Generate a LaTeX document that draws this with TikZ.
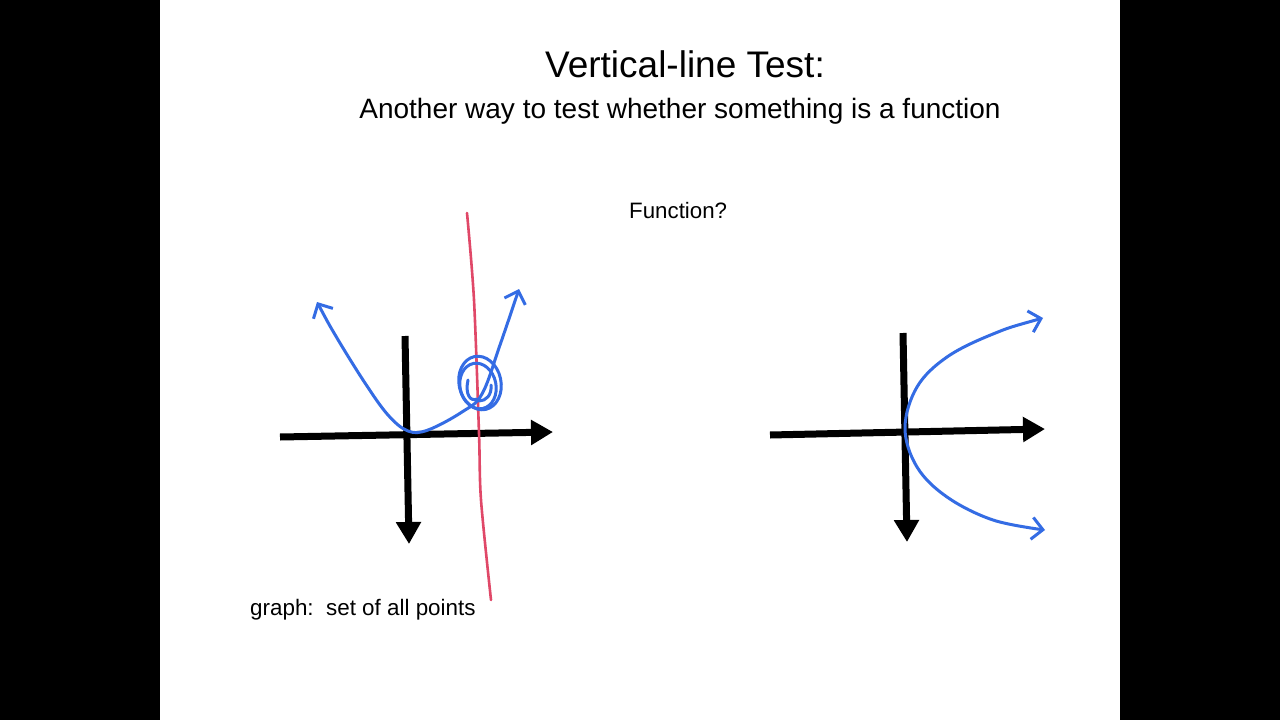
\documentclass[tikz,border=0pt]{standalone}
\usepackage{fontspec}
\setmainfont{Liberation Sans}
\usetikzlibrary{arrows.meta}
\definecolor{penblue}{RGB}{52,108,228}
\definecolor{penred}{RGB}{224,72,104}
\tikzset{
  axis/.style={line width=7pt,-{Triangle[length=22pt,width=24pt]}},
  curve/.style={penblue,line width=3pt,line cap=round,line join=round},
  barb/.style={{Straight Barb[length=11pt,width=22pt]}-{Straight Barb[length=11pt,width=22pt]}},
  txt/.style={inner sep=0pt,text=black},
}
\begin{document}
\begin{tikzpicture}[x=1pt,y=-1pt]
\useasboundingbox (0,0) rectangle (1280,720);
\fill[black] (0,0) rectangle (1280,720);
\fill[white] (160,0) rectangle (1120,720);

% texts
\node[txt,anchor=base,font=\fontsize{37pt}{40pt}\selectfont] (title) at (685,77) {Vertical-line Test:};
\node[txt,anchor=base,font=\fontsize{28pt}{32pt}\selectfont] (subtitle) at (680,118) {Another way to test whether something is a function};
\node[txt,anchor=base west,font=\fontsize{22.3pt}{26pt}\selectfont] (question) at (629,218) {Function?};
\node[txt,anchor=base west,font=\fontsize{22.4pt}{26pt}\selectfont] (graphdef) at (250,615) {graph:\ \ set of all points};

% left graph axes
\coordinate (lxs) at (280,437);
\coordinate (lxe) at (553,432);
\coordinate (lys) at (405,336);
\coordinate (lye) at (409,544);
\draw[axis] (lxs) -- (lxe);
\draw[axis] (lys) -- (lye);

% red vertical line
\draw[penred,line width=2.6pt,line cap=round] plot[smooth,tension=0.5] coordinates {(467,213) (474,300) (479,433) (481,500) (491,600)};

% left parabola
\draw[curve,barb] plot[smooth,tension=0.6] coordinates {(317,302) (337,338) (365,383) (388,415) (408,431) (428,430) (462,412) (482,394) (500,345) (519,289)};

% circle around intersection
\draw[curve,rotate around={12:(480,383)}] (480,383) ellipse [x radius=21, y radius=27];
\draw[curve,rotate around={12:(478,386)}] (478,386) ellipse [x radius=18, y radius=23];
\draw[curve] (468,380) .. controls (465,394) and (470,402) .. (477,399);
\draw[curve] (491,385) .. controls (492,395) and (486,401) .. (479,401);

% right graph axes
\coordinate (rxs) at (770,435);
\coordinate (rxe) at (1045,429);
\coordinate (rys) at (903,333);
\coordinate (rye) at (907,542);
\draw[axis] (rxs) -- (rxe);
\draw[axis] (rys) -- (rye);

% right sideways parabola
\draw[curve,barb] plot[smooth,tension=0.6] coordinates {(1043,318) (993,334) (947,357) (917,387) (905,428) (917,467) (947,497) (993,520) (1045,530)};
\end{tikzpicture}
\end{document}
